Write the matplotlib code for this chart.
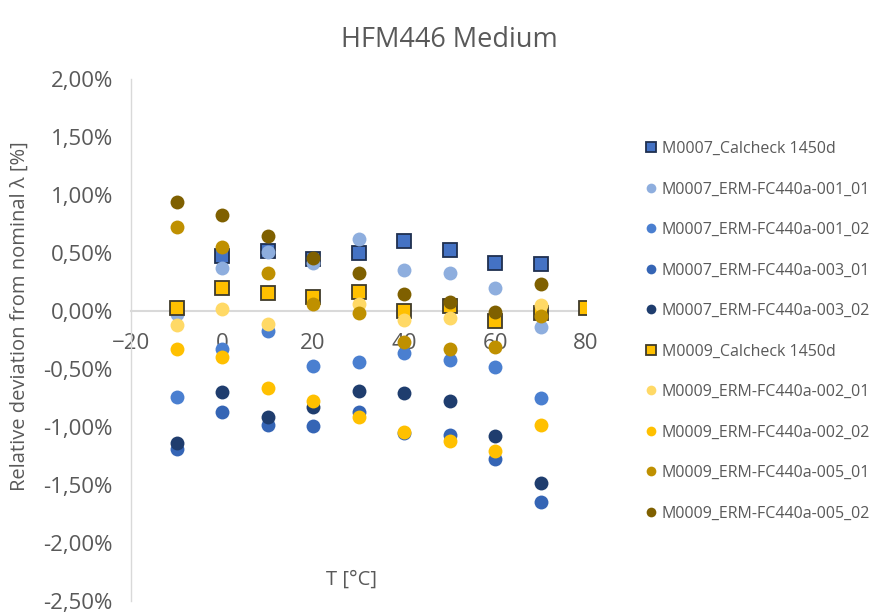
import numpy as np
import matplotlib
matplotlib.use("Agg")
import matplotlib.pyplot as plt
from matplotlib.ticker import FuncFormatter

plt.rcParams['font.family'] = ['Open Sans', 'DejaVu Sans']

nan = np.nan
temps = [-10, 0, 10, 20, 30, 40, 50, 60, 70, 80]

# relative deviation in %
m7_cal = [nan, 0.47, 0.515, 0.45, 0.50, 0.60, 0.525, 0.415, 0.405, nan]
m7_001_01 = [-0.03, 0.37, 0.51, 0.41, 0.62, 0.35, 0.33, 0.20, -0.135, nan]
m7_001_02 = [-0.74, -0.33, -0.17, -0.47, -0.44, -0.36, -0.42, -0.48, -0.75, nan]
m7_003_01 = [-1.19, -0.87, -0.98, -0.99, -0.87, -1.05, -1.07, -1.28, -1.65, nan]
m7_003_02 = [-1.14, -0.70, -0.91, -0.83, -0.69, -0.71, -0.78, -1.08, -1.48, nan]
m9_cal = [0.025, 0.20, 0.155, 0.12, 0.16, 0.0, 0.045, -0.09, -0.02, 0.03]
m9_002_01 = [-0.12, 0.015, -0.11, nan, 0.06, -0.075, -0.06, nan, 0.05, nan]
m9_002_02 = [-0.33, -0.40, -0.66, -0.78, -0.91, -1.04, -1.12, -1.21, -0.98, nan]
m9_005_01 = [0.72, 0.55, 0.33, 0.06, -0.02, -0.27, -0.33, -0.31, -0.04, nan]
m9_005_02 = [0.94, 0.83, 0.65, 0.46, 0.33, 0.15, 0.08, -0.01, 0.23, nan]

series = [
    ("M0007_Calcheck 1450d", m7_cal, 's', '#4472C4', '#1F2F4F'),
    ("M0007_ERM-FC440a-001_01", m7_001_01, 'o', '#8EAEDE', None),
    ("M0007_ERM-FC440a-001_02", m7_001_02, 'o', '#4A7FD0', None),
    ("M0007_ERM-FC440a-003_01", m7_003_01, 'o', '#3565B5', None),
    ("M0007_ERM-FC440a-003_02", m7_003_02, 'o', '#1F3D6E', None),
    ("M0009_Calcheck 1450d", m9_cal, 's', '#FFC000', '#3F3A2A'),
    ("M0009_ERM-FC440a-002_01", m9_002_01, 'o', '#FFD966', None),
    ("M0009_ERM-FC440a-002_02", m9_002_02, 'o', '#FFC000', None),
    ("M0009_ERM-FC440a-005_01", m9_005_01, 'o', '#BF9000', None),
    ("M0009_ERM-FC440a-005_02", m9_005_02, 'o', '#7F6000', None),
]

fig = plt.figure(figsize=(8.75, 6.13), dpi=100)
ax = fig.add_axes([131/875, 12/613, 455/875, 522/613])

for i, (name, vals, mk, col, edge) in enumerate(series):
    if mk == 's':
        ax.plot(temps, vals, linestyle='none', marker='s', markersize=9.5,
                markerfacecolor=col, markeredgecolor=edge, markeredgewidth=1.3,
                label=name, zorder=3 + i)
    else:
        ax.plot(temps, vals, linestyle='none', marker='o', markersize=10,
                markerfacecolor=col, markeredgecolor='none',
                label=name, zorder=3 + i)

ax.set_xlim(-20, 80)
ax.set_ylim(-2.5, 2.0)
ax.set_xticks(range(-20, 81, 20))
ax.set_yticks(np.arange(-2.5, 2.01, 0.5))
ax.yaxis.set_major_formatter(FuncFormatter(lambda v, p: f"{v:.2f}%".replace('.', ',')))

for s in ['top', 'right']:
    ax.spines[s].set_visible(False)
ax.spines['bottom'].set_position(('data', 0))
ax.spines['bottom'].set_color('#D9D9D9')
ax.spines['left'].set_color('#D9D9D9')
ax.spines['bottom'].set_linewidth(1.5)
ax.spines['left'].set_linewidth(1.0)
ax.tick_params(axis='both', length=0, labelcolor='#595959', labelsize=16)
ax.tick_params(axis='x', pad=16)
ax.tick_params(axis='y', pad=13)

fig.text(449/875, 1 - 40/613, "HFM446 Medium", ha='center', va='center',
         fontsize=19.5, color='#595959')
fig.text(20/875, 1 - 316/613, "Relative deviation from nominal λ [%]", rotation=90,
         ha='center', va='center', fontsize=14.5, color='#595959')
fig.text(352/875, 1 - 580/613, "T [°C]", ha='center', va='center',
         fontsize=14.5, color='#595959')

leg = fig.legend(loc='upper left', bbox_to_anchor=(638/875, 1 - 134.5/613),
                 frameon=False, fontsize=11.5, labelspacing=1.535,
                 handlelength=0.8, handletextpad=0.3, markerscale=0.7,
                 borderaxespad=0)
for t in leg.get_texts():
    t.set_color('#595959')

fig.savefig("out.png", dpi=100)
